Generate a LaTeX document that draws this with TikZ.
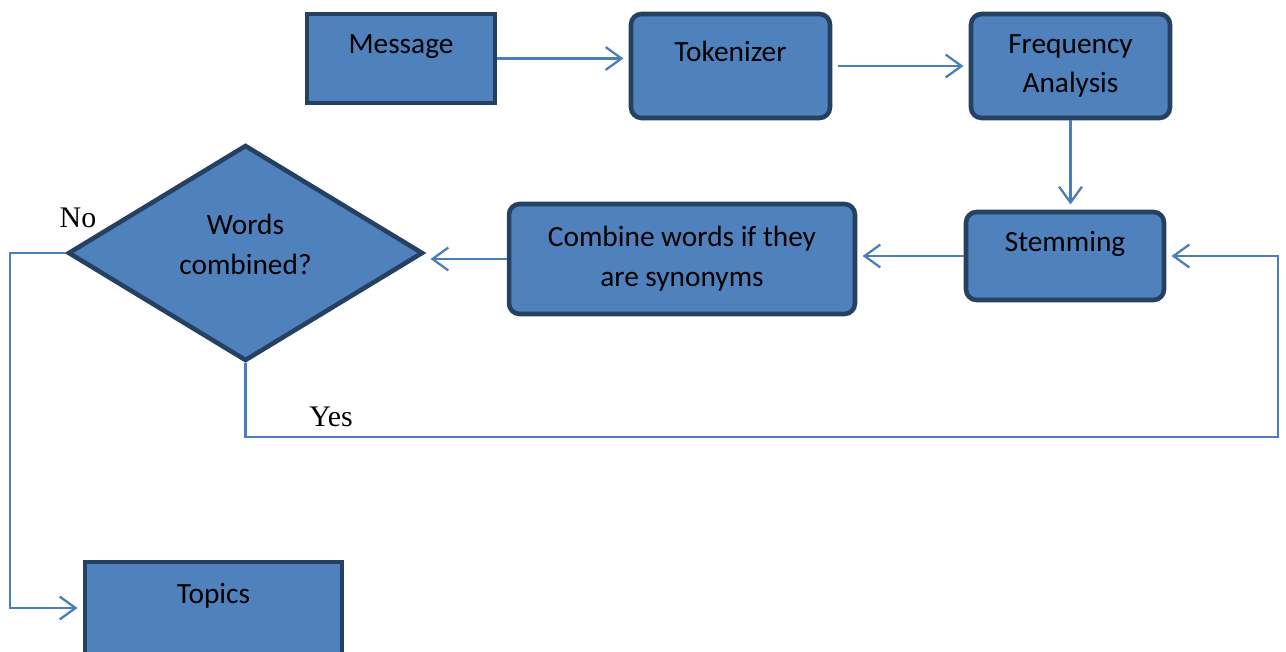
\documentclass[tikz,border=0pt]{standalone}
\usepackage{fontspec}
\setmainfont{Carlito}
\newfontfamily\serifnote{Liberation Serif}
\usetikzlibrary{arrows.meta,shapes.geometric,positioning,calc}
\definecolor{BoxBlue}{RGB}{79,129,189}
\definecolor{EdgeNavy}{RGB}{38,64,97}
\definecolor{LineBlue}{RGB}{74,126,187}

\begin{document}
\begin{tikzpicture}[x=0.02cm, y=-0.02cm,
		boxfont/.style={font=\fontsize{16.7}{22.7}\selectfont},
		box/.style={draw=EdgeNavy, line width=2.6pt, fill=BoxBlue, inner sep=0pt, align=center, boxfont},
		rbox/.style={box, rounded corners=6pt},
		oneline/.style={text height=0.4cm, text depth=0.58cm},
		decision/.style={box, diamond, minimum width=7.1cm, minimum height=4.32cm},
		flow/.style={draw=LineBlue, line width=1.3pt, -{Straight Barb[length=9pt,width=13pt]}, shorten >=3pt},
		note/.style={font=\serifnote\fontsize{17}{20}\selectfont}]
		\useasboundingbox (0,0) rectangle (1286,652);
		% bloques del proceso
		\node[box, oneline, minimum width=3.76cm, minimum height=1.78cm] (msg) at (401,58.5) {Message};
		\node[rbox, oneline, minimum width=3.98cm, minimum height=2.08cm] (tok) at (730.5,66) {Tokenizer};
		\node[rbox, minimum width=3.98cm, minimum height=2.08cm] (freq) at (1070.5,66) {Frequency\\Analysis};
		\node[rbox, oneline, minimum width=3.96cm, minimum height=1.76cm] (stem) at (1065,256) {Stemming};
		\node[rbox, minimum width=6.92cm, minimum height=2.2cm] (comb) at (682,259) {Combine words if they\\are synonyms};
		\node[decision, label={[boxfont, align=center, yshift=5pt]center:{Words\\combined?}}] (dec) at (245.5,253) {};
		\node[box, oneline, minimum width=5.14cm, minimum height=1.84cm] (topics) at (213.5,608) {Topics};
		\node[note] (no) at (78,218) {No};
		\node[note] (yes) at (331,417) {Yes};
		\coordinate (loopR) at (1278,437);
		\coordinate (noL) at (10,253);
		% flechas
		\draw[flow] (msg.east) -- (msg.east -| tok.west);
		\draw[flow, shorten <=3pt] (tok.east) -- (freq.west);
		\draw[flow] (freq.south) -- (freq.south |- stem.north);
		\foreach \a/\b in {stem/comb, comb/dec}
		\draw[flow] (\a.west) -- (\a.west -| \b.east);
		\draw[flow] (dec.south) |- (loopR) |- (stem.east);
		\draw[flow] (dec.west) -- (noL) |- (topics.west);
	\end{tikzpicture}
\end{document}
